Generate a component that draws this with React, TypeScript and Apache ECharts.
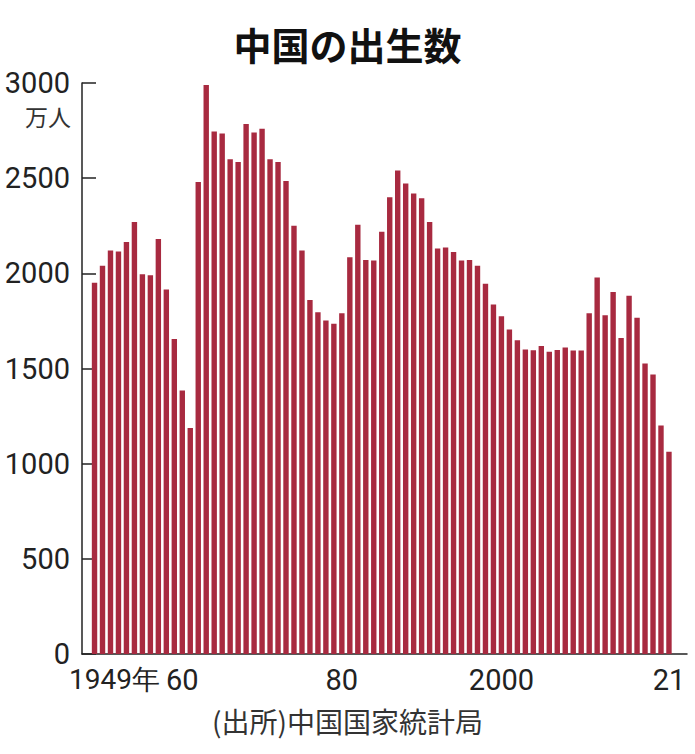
import React, { useEffect, useRef } from "react";
import * as echarts from "echarts";

const years: number[] = [];
for (let y = 1949; y <= 2021; y++) years.push(y);

const births: number[] = [
  1950, 2040, 2120, 2115, 2165, 2270, 1995, 1990, 2180, 1915, 1655,
  1385, 1188, 2480, 2990, 2745, 2735, 2600, 2585, 2785, 2740, 2760,
  2600, 2585, 2485, 2250, 2120, 1860, 1795, 1752, 1735, 1790,
  2085, 2255, 2070, 2068, 2218, 2400, 2540, 2472, 2420, 2395,
  2270, 2130, 2136, 2112, 2068, 2070, 2040, 1945, 1836, 1774,
  1705, 1648, 1600, 1596, 1618, 1588, 1597, 1610, 1594, 1594,
  1790, 1978, 1780, 1902, 1660, 1882, 1766, 1526, 1468, 1201, 1063,
];

const xTickValues = [1949, 1960, 1980, 2000, 2021];
const xTickLabels = ["1949年", "60", "80", "2000", "21"];

const NUM_FONT = "Roboto, Liberation Sans, sans-serif";
const CJK_FONT = "Noto Sans CJK JP, Noto Sans, sans-serif";

export default function App() {
  const ref = useRef<HTMLDivElement>(null);
  useEffect(() => {
    if (!ref.current) return;
    const chart = echarts.init(ref.current, undefined, { renderer: "svg" });
    chart.setOption({
      animation: false,
      backgroundColor: "#ffffff",
      title: {
        text: "中国の出生数",
        left: "center",
        top: 19,
        textStyle: {
          fontFamily: CJK_FONT,
          fontWeight: "bold",
          fontSize: 38,
          color: "#111",
        },
      },
      grid: { left: 82, right: 8, top: 83, bottom: 100, outerBoundsMode: "none", containLabel: false },
      xAxis: {
        type: "value",
        min: 1947.43,
        max: 2023.26,
        axisLine: { show: true, onZero: false, lineStyle: { color: "#222", width: 1.5 } },
        axisTick: { show: false },
        splitLine: { show: false },
        axisLabel: {
          customValues: xTickValues,
          showMinLabel: true,
          showMaxLabel: true,
          hideOverlap: false,
          margin: 11,
          fontFamily: NUM_FONT,
          fontSize: 29,
          color: "#222",
          formatter: (v: number) => {
            const i = xTickValues.indexOf(Math.round(v));
            if (i < 0) return "";
            if (i === 0) return "{a|" + xTickLabels[0] + "}";
            return xTickLabels[i];
          },
          rich: {
            a: {
              fontFamily: NUM_FONT,
              fontSize: 28,
              color: "#222",
              padding: [0, 0, 0, 40],
            },
          },
        },
      },
      yAxis: {
        type: "value",
        min: 0,
        max: 3000,
        interval: 500,
        axisLine: { show: true, lineStyle: { color: "#222", width: 1.5 } },
        axisTick: { show: true, inside: true, length: 14, lineStyle: { color: "#222", width: 1.5 } },
        splitLine: { show: false },
        axisLabel: {
          margin: 12,
          fontFamily: NUM_FONT,
          fontSize: 29,
          color: "#222",
          formatter: (v: number) => String(v),
        },
      },
      graphic: [
        {
          type: "text",
          right: 695 - 71,
          top: 104,
          style: {
            text: "万人",
            fontFamily: CJK_FONT,
            fontSize: 23,
            fill: "#333",
          },
        },
        {
          type: "text",
          left: "center",
          top: 707,
          style: {
            text: "(出所)中国国家統計局",
            fontFamily: CJK_FONT,
            fontSize: 28,
            fill: "#333",
          },
        },
      ],
      series: [
        {
          type: "bar",
          data: years.map((y, i) => [y, births[i]]),
          barWidth: 5.4,
          itemStyle: { color: "#a82a40" },
        },
      ],
    });
    return () => chart.dispose();
  }, []);
  return (
    <div
      ref={ref}
      style={{ position: "fixed", left: 0, top: 0, width: 695, height: 754 }}
    />
  );
}
